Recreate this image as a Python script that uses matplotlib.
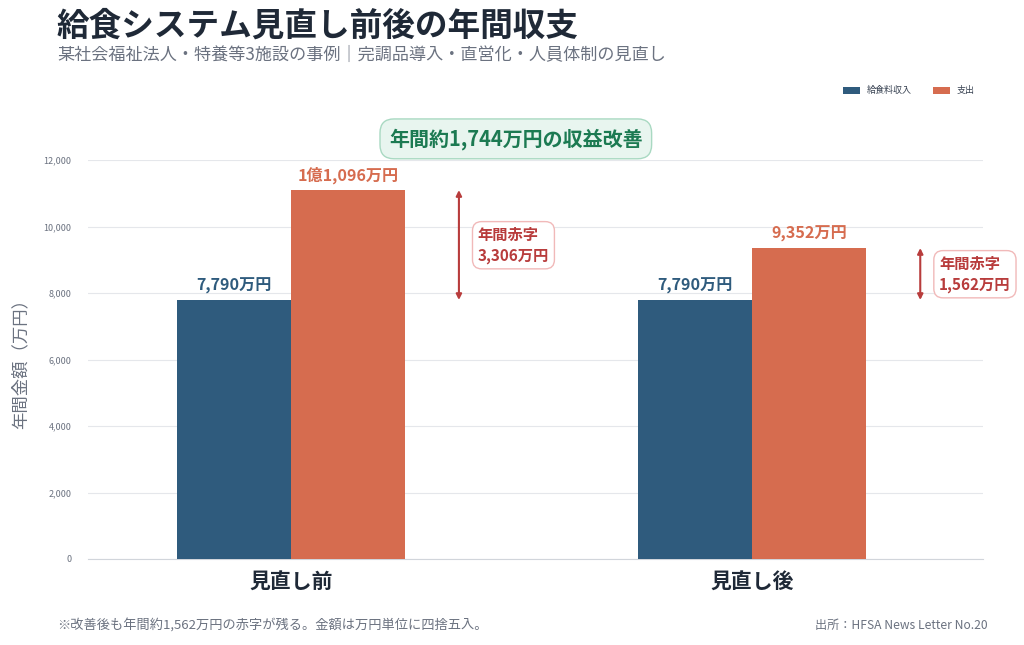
import numpy as np
from matplotlib import pyplot as plt

plt.rcParams['font.family'] = ['Noto Sans CJK JP', 'DejaVu Sans']

categories = ['見直し前', '見直し後']
income = [7790, 7790]
expense = [11096, 9352]
income_labels = ['7,790万円', '7,790万円']
expense_labels = ['1億1,096万円', '9,352万円']
deficit_labels = ['年間赤字\n3,306万円', '年間赤字\n1,562万円']
yticks = [0, 2000, 4000, 6000, 8000, 10000, 12000]

blue = '#2f5b7d'
orange = '#d66c4f'
red = '#b83c3c'

fig = plt.figure(figsize=(10.24, 6.45), dpi=100)
ax = fig.add_axes([88/1024, 1-559/645, 895/1024, 399/645])

x = np.arange(len(categories))
w = 0.247
ax.bar(x - w/2, income, w, color=blue, label='給食料収入', zorder=3)
ax.bar(x + w/2, expense, w, color=orange, label='支出', zorder=3)

for i in range(len(categories)):
    ax.text(x[i] - w/2, income[i] + 170, income_labels[i], ha='center', va='bottom',
            fontsize=11.6, fontweight='bold', color=blue)
    ax.text(x[i] + w/2, expense[i] + 170, expense_labels[i], ha='center', va='bottom',
            fontsize=11.6, fontweight='bold', color=orange)
    # deficit arrow
    ax.annotate('', xy=(x[i] + 0.364, expense[i]), xytext=(x[i] + 0.364, income[i]),
                arrowprops=dict(arrowstyle='<|-|>', color=red, lw=1.5, mutation_scale=8,
                                shrinkA=0, shrinkB=0))
    ax.text(x[i] + 0.405, (income[i] + expense[i]) / 2, deficit_labels[i], ha='left', va='center',
            fontsize=11, fontweight='bold', color=red, linespacing=1.35,
            bbox=dict(boxstyle='round,pad=0.35,rounding_size=0.6', fc='white', ec='#f1b9b9', lw=1))

ax.text(0.478, 1.053, '年間約1,744万円の収益改善', transform=ax.transAxes, ha='center', va='center',
        fontsize=14.4, fontweight='bold', color='#1c7a52', clip_on=False,
        bbox=dict(boxstyle='round,pad=0.45,rounding_size=0.7', fc='#e8f5ef', ec='#a9d9c2', lw=1))

ax.set_xlim(-0.44, 1.50)
ax.set_ylim(0, 12000)
ax.set_yticks(yticks)
ax.set_yticklabels([f'{v:,}' for v in yticks], fontsize=6.5, color='#6b7280')
ax.set_xticks(x)
ax.set_xticklabels(categories, fontsize=15, fontweight='bold', color='#1f2937')
ax.tick_params(axis='both', length=0)
ax.tick_params(axis='y', pad=12)
ax.tick_params(axis='x', pad=9)
ax.grid(axis='y', color='#e5e7eb', lw=0.8, zorder=0)
for s in ['top', 'right', 'left']:
    ax.spines[s].set_visible(False)
ax.spines['bottom'].set_color('#d1d5db')
ax.set_ylabel('年間金額（万円）', fontsize=12.5, color='#6b7280', labelpad=10)

leg = ax.legend(loc='upper right', bbox_to_anchor=(1.0, 1.205), ncol=2, frameon=False,
                fontsize=6.5, handlelength=1.8, handleheight=0.8, columnspacing=2.4, labelcolor='#374151')

fig.text(57/1024, 1-26/645, '給食システム見直し前後の年間収支', fontsize=23.5, fontweight='bold',
         color='#1f2937', va='center', ha='left')
fig.text(57/1024, 1-55/645, '某社会福祉法人・特養等3施設の事例｜完調品導入・直営化・人員体制の見直し',
         fontsize=12.3, color='#6b7280', va='center', ha='left')
fig.text(57/1024, 1-625/645, '※改善後も年間約1,562万円の赤字が残る。金額は万円単位に四捨五入。',
         fontsize=9.5, color='#6b7280', va='center', ha='left')
fig.text(988/1024, 1-625/645, '出所：HFSA News Letter No.20',
         fontsize=8.7, color='#6b7280', va='center', ha='right')

fig.savefig('out.png', dpi=100)
